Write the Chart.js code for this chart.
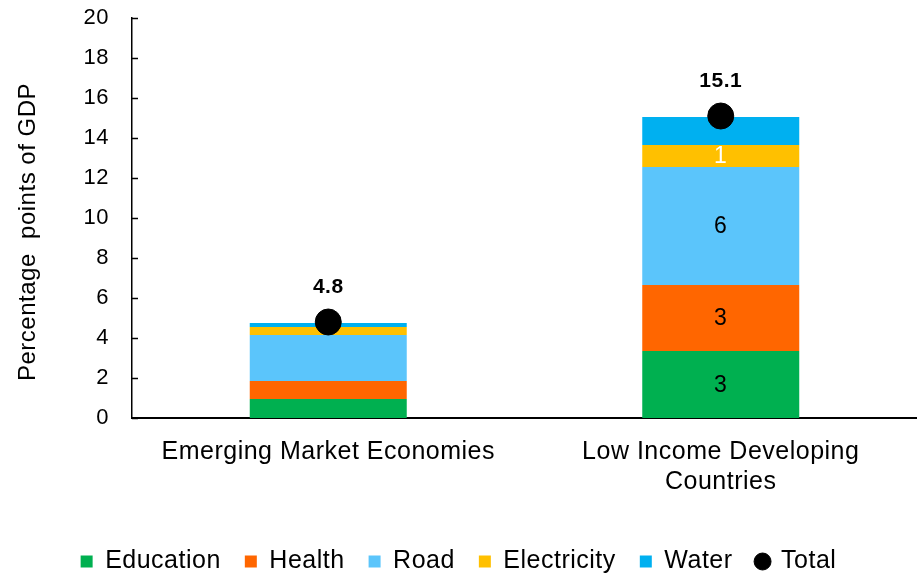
<!DOCTYPE html>
<html>
<head>
<meta charset="utf-8">
<script src="https://cdn.jsdelivr.net/npm/chart.js@4.4.1/dist/chart.umd.min.js"></script>
<style>
  html, body { margin: 0; padding: 0; background: #fff; }
  #wrap { width: 917px; height: 573px; }
</style>
</head>
<body>
<div id="wrap"><canvas id="investChart"></canvas></div>
<script>
const categories = ['Emerging Market Economies', ['Low Income Developing', 'Countries']];
const education = [0.95, 3.35];
const health = [0.9, 3.3];
const road = [2.3, 5.9];
const electricity = [0.4, 1.1];
const water = [0.2, 1.4];
const total = [4.8, 15.1];
const totalLabels = ['4.8', '15.1'];
// labels shown inside the bar segments (Education, Health, Road, Electricity, Water)
const emeSegmentLabels = ['', '', '', '', ''];
const lidcSegmentLabels = ['3', '3', '6', '1', ''];
const yTicks = [0, 2, 4, 6, 8, 10, 12, 14, 16, 18, 20];
const yTitle = 'Percentage  points of GDP';

const FONT = "'Liberation Sans', Arial, sans-serif";

// line controller that does not reserve extra room around the big dots
class DotController extends Chart.LineController {
    getMaxOverflow() { return 0; }
}
DotController.id = 'dots';
DotController.defaults = Chart.LineController.defaults;
Chart.register(DotController);

// slightly wider text like the original export
const spacingPlugin = {
    id: 'spacing',
    beforeLayout(chart) { chart.ctx.letterSpacing = '0.5px'; },
    beforeDraw(chart) { chart.ctx.letterSpacing = '0.5px'; }
};

// inner y ticks, axis title, value labels
const labelPlugin = {
    id: 'labels',
    afterDatasetsDraw(chart) {
        const ctx = chart.ctx;
        const y = chart.scales.y;
        const area = chart.chartArea;
        ctx.save();
        ctx.strokeStyle = '#000';
        ctx.lineWidth = 1.5;
        y.ticks.forEach((t, i) => {
            const py = Math.round(y.getPixelForTick(i)) + 0.5;
            ctx.beginPath();
            ctx.moveTo(y.right, py);
            ctx.lineTo(y.right + 6, py);
            ctx.stroke();
        });

        // y axis title
        ctx.save();
        ctx.translate(area.left - 104, (area.top + area.bottom) / 2 + 14);
        ctx.rotate(-Math.PI / 2);
        ctx.textAlign = 'center';
        ctx.textBaseline = 'middle';
        ctx.fillStyle = '#000';
        ctx.font = '24px ' + FONT;
        ctx.fillText(yTitle, 0, 0);
        ctx.restore();

        ctx.textAlign = 'center';
        ctx.textBaseline = 'middle';
        ctx.font = '23px ' + FONT;
        const segLabels = [emeSegmentLabels, lidcSegmentLabels];
        for (let d = 0; d < 5; d++) {
            const meta = chart.getDatasetMeta(d);
            meta.data.forEach((bar, i) => {
                const txt = segLabels[i][d];
                if (!txt) return;
                ctx.fillStyle = d === 3 ? '#ffffff' : '#000000';
                ctx.fillText(txt, bar.x, (bar.y + bar.base) / 2 + 1);
            });
        }

        ctx.font = 'bold 21px ' + FONT;
        ctx.fillStyle = '#000';
        const tMeta = chart.getDatasetMeta(5);
        tMeta.data.forEach((pt, i) => {
            ctx.fillText(totalLabels[i], pt.x, pt.y - 35);
        });
        ctx.restore();
    }
};

const barBase = {
    type: 'bar',
    borderWidth: 0,
    pointStyle: 'rect',
    categoryPercentage: 1,
    barPercentage: 0.4,
    order: 1
};

new Chart(document.getElementById('investChart').getContext('2d'), {
    data: {
        labels: categories,
        datasets: [
            { ...barBase, label: 'Education', data: education, backgroundColor: '#00B050' },
            { ...barBase, label: 'Health', data: health, backgroundColor: '#FF6600' },
            { ...barBase, label: 'Road', data: road, backgroundColor: '#5BC5FB' },
            { ...barBase, label: 'Electricity', data: electricity, backgroundColor: '#FFC000' },
            { ...barBase, label: 'Water', data: water, backgroundColor: '#00B0F0' },
            {
                type: 'dots',
                label: 'Total',
                data: total,
                showLine: false,
                pointStyle: 'circle',
                pointRadius: 13,
                pointHoverRadius: 13,
                backgroundColor: '#000',
                borderColor: '#000',
                order: 0
            }
        ]
    },
    options: {
        responsive: true,
        maintainAspectRatio: false,
        animation: false,
        layout: { padding: { top: 18, right: 0, left: 0, bottom: -11 } },
        scales: {
            x: {
                type: 'category',
                offset: true,
                stacked: true,
                grid: { display: false },
                border: { display: true, color: '#000', width: 2 },
                ticks: {
                    color: '#000',
                    font: { family: FONT, size: 25, lineHeight: 1.2 },
                    padding: 11,
                    maxRotation: 0
                },
                afterFit(scale) {
                    scale.height = 107;
                    scale.paddingLeft = 0;
                    scale.paddingRight = 0;
                }
            },
            y: {
                type: 'linear',
                stacked: true,
                min: 0,
                max: 20,
                afterBuildTicks(scale) { scale.ticks = yTicks.map(v => ({ value: v })); },
                grid: { display: false },
                border: { display: true, color: '#000', width: 1.5 },
                ticks: {
                    color: '#000',
                    font: { family: FONT, size: 22 },
                    padding: 15
                },
                afterFit(scale) {
                    scale.width = 132;
                    scale.paddingTop = 0;
                    scale.paddingBottom = 0;
                }
            }
        },
        plugins: {
            legend: {
                position: 'bottom',
                labels: {
                    usePointStyle: true,
                    boxWidth: 12,
                    boxHeight: 12,
                    padding: 24,
                    color: '#000',
                    font: { family: FONT, size: 25 },
                    sort: (a, b) => a.datasetIndex - b.datasetIndex
                }
            },
            tooltip: { enabled: false }
        }
    },
    plugins: [spacingPlugin, labelPlugin]
});
</script>
</body>
</html>
